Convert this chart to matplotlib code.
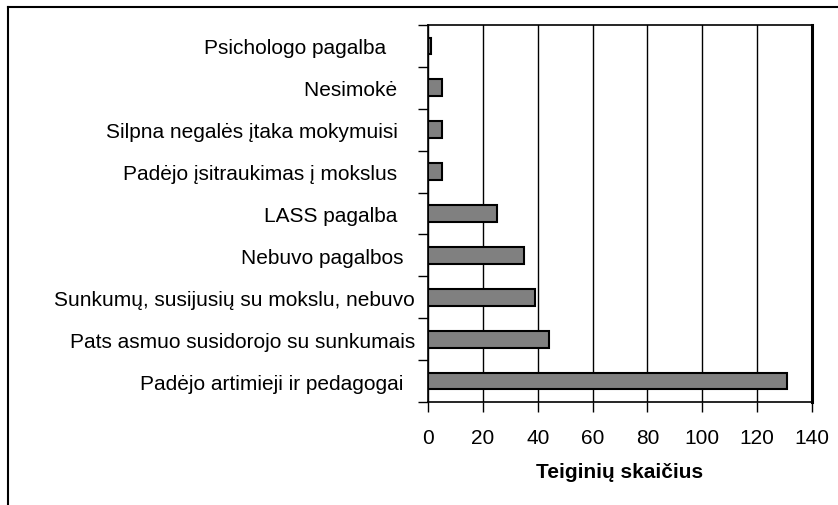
import numpy as np
import matplotlib
matplotlib.use("Agg")
import matplotlib.pyplot as plt
from matplotlib.lines import Line2D

plt.rcParams['font.family'] = ['Liberation Sans', 'DejaVu Sans']

# kategorijos (iš viršaus į apačią) ir reikšmės
kategorijos = [
    "Psichologo pagalba     ",
    "Nesimokė   ",
    "Silpna negalės įtaka mokymuisi   ",
    "Padėjo įsitraukimas į mokslus   ",
    "LASS pagalba   ",
    "Nebuvo pagalbos  ",
    "Sunkumų, susijusių su mokslu, nebuvo",
    "Pats asmuo susidorojo su sunkumais",
    "Padėjo artimieji ir pedagogai  ",
]
reiksmes = [1, 5, 5, 5, 25, 35, 39, 44, 131]
x_ticks = [0, 20, 40, 60, 80, 100, 120, 140]
x_pavadinimas = "Teiginių skaičius"

fig = plt.figure(figsize=(8.38, 5.06), dpi=100)
ax = fig.add_axes([428/838, 1-403/506, (812-428)/838, (403-26)/506])

y = np.arange(len(kategorijos))
ax.barh(y, reiksmes, height=0.4, color="#808080", edgecolor="black", linewidth=1.5, zorder=3)

ax.set_xlim(0, 140)
ax.set_ylim(len(kategorijos) - 0.5, -0.5)
ax.set_xticks(x_ticks)
ax.set_xticklabels([str(v) for v in x_ticks], fontsize=15)
ax.xaxis.grid(True, color="black", linewidth=1.0, zorder=0)

# y ašies brūkšneliai tarp kategorijų, etiketės per vidurį
ax.set_yticks(np.arange(len(kategorijos) + 1) - 0.5)
ax.set_yticklabels([])
ax.set_yticks(y, minor=True)
ax.set_yticklabels(kategorijos, minor=True, fontsize=15)
ax.tick_params(axis="y", which="minor", length=0, pad=9.5)
ax.tick_params(axis="y", which="major", direction="out", length=7, width=1)
ax.tick_params(axis="x", direction="out", length=7, width=1, pad=11.5)

for s in ["left", "bottom", "top"]:
    ax.spines[s].set_linewidth(1.2)
ax.spines["right"].set_linewidth(2.2)

ax.set_xlabel(x_pavadinimas, fontsize=15, fontweight="bold", labelpad=11)

# išorinis rėmelis
fig.add_artist(Line2D([8/838, 8/838], [0, 1-8/506], color="black", linewidth=1.5, transform=fig.transFigure))
fig.add_artist(Line2D([8/838, 1], [1-8/506, 1-8/506], color="black", linewidth=1.5, transform=fig.transFigure))

fig.savefig("out.png", dpi=100)
